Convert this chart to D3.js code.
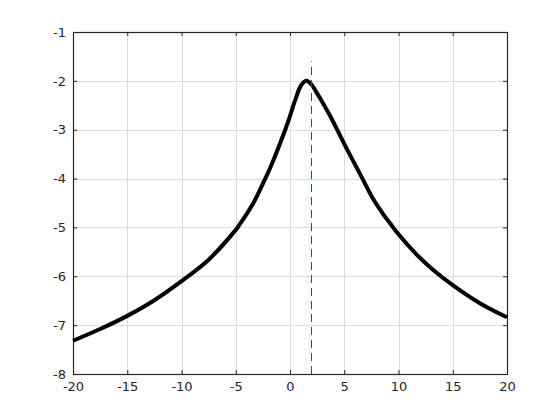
<!DOCTYPE html>
<html>
<head>
<meta charset="utf-8">
<script src="https://cdn.jsdelivr.net/npm/d3@7"></script>
<style>
  body { margin: 0; background: #fff; }
  svg { display: block; }
  text { font-family: "DejaVu Sans", sans-serif; font-size: 13px; fill: #262626; }
</style>
</head>
<body>
<svg id="chart" width="560" height="420"></svg>
<script>
// Curve samples
const xValues = [-20, -17.5, -15, -12.5, -10, -7.5, -5, -4.7, -3.4, -2.28, -1.9, -0.44, 0, 0.5, 1.0, 1.5,
                 2.0, 2.4, 2.76, 3.68, 5, 6.44, 7.67, 8.5, 9.2, 10, 11.7, 13.2, 15, 17.5, 20];
const yValues = [-7.32, -7.08, -6.81, -6.49, -6.10, -5.66, -5.05, -4.96, -4.51, -4.0, -3.82, -3.0, -2.72, -2.38, -2.10, -2.00,
                 -2.08, -2.22, -2.35, -2.71, -3.29, -3.90, -4.42, -4.70, -4.91, -5.14, -5.56, -5.87, -6.18, -6.55, -6.84];

// vertical marker
const markerX = 2;
const markerY = [-8, -1.6];

const xTicks = [-20, -15, -10, -5, 0, 5, 10, 15, 20];
const yTicks = [-8, -7, -6, -5, -4, -3, -2, -1];

const svg = d3.select('#chart');
const plotLeft = 73, plotRight = 507, plotTop = 32, plotBottom = 374;

const x = d3.scaleLinear().domain([-20, 20]).range([plotLeft, plotRight]);
const y = d3.scaleLinear().domain([-8, -1]).range([plotBottom, plotTop]);

// Grid
const grid = svg.append('g').attr('stroke', '#dcdcdc').attr('stroke-width', 1);
grid.selectAll('.gx').data(xTicks).enter().append('line')
    .attr('x1', d => Math.round(x(d)) + 0.5).attr('x2', d => Math.round(x(d)) + 0.5)
    .attr('y1', plotTop).attr('y2', plotBottom);
grid.selectAll('.gy').data(yTicks).enter().append('line')
    .attr('y1', d => Math.round(y(d)) + 0.5).attr('y2', d => Math.round(y(d)) + 0.5)
    .attr('x1', plotLeft).attr('x2', plotRight);

// Axes (ticks pointing inward, labels outside)
const fmt = d => String(d);
const axisBottom = d3.axisBottom(x).tickValues(xTicks).tickFormat(fmt).tickSizeInner(-4).tickSizeOuter(0).tickPadding(8);
const axisTop = d3.axisTop(x).tickValues(xTicks).tickSizeInner(-4).tickSizeOuter(0).tickFormat('');
const axisLeft = d3.axisLeft(y).tickValues(yTicks).tickFormat(fmt).tickSizeInner(-4).tickSizeOuter(0).tickPadding(7);
const axisRight = d3.axisRight(y).tickValues(yTicks).tickSizeInner(-4).tickSizeOuter(0).tickFormat('');

function styleAxis(g) {
  g.select('.domain').remove();
  g.selectAll('line').attr('stroke', '#262626');
  g.selectAll('text').attr('fill', '#262626').style('font-size', '13px')
    .style('font-family', '"DejaVu Sans", sans-serif');
}

svg.append('g').attr('transform', `translate(0,${plotBottom})`).call(axisBottom).call(styleAxis);
svg.append('g').attr('transform', `translate(0,${plotTop})`).call(axisTop).call(styleAxis);
svg.append('g').attr('transform', `translate(${plotLeft},0)`).call(axisLeft).call(styleAxis);
svg.append('g').attr('transform', `translate(${plotRight},0)`).call(axisRight).call(styleAxis);

// Box
svg.append('rect')
    .attr('x', plotLeft + 0.5).attr('y', plotTop + 0.5)
    .attr('width', plotRight - plotLeft).attr('height', plotBottom - plotTop)
    .attr('fill', 'none').attr('stroke', '#262626').attr('stroke-width', 1.2);

// Curve
const pts = xValues.map((v, i) => [v, yValues[i]]);
const line = d3.line().x(d => x(d[0])).y(d => y(d[1])).curve(d3.curveCatmullRom.alpha(0.5));
svg.append('path')
    .datum(pts)
    .attr('d', line)
    .attr('fill', 'none')
    .attr('stroke', '#000')
    .attr('stroke-width', 4)
    .attr('stroke-linejoin', 'round');

// Dashed marker
const mx = Math.floor(x(markerX)) + 0.5;
svg.append('line')
    .attr('x1', mx).attr('x2', mx)
    .attr('y1', y(markerY[0])).attr('y2', y(markerY[1]))
    .attr('stroke', '#e00000')
    .attr('stroke-width', 1)
    .attr('stroke-dasharray', '8,5');
</script>
</body>
</html>
